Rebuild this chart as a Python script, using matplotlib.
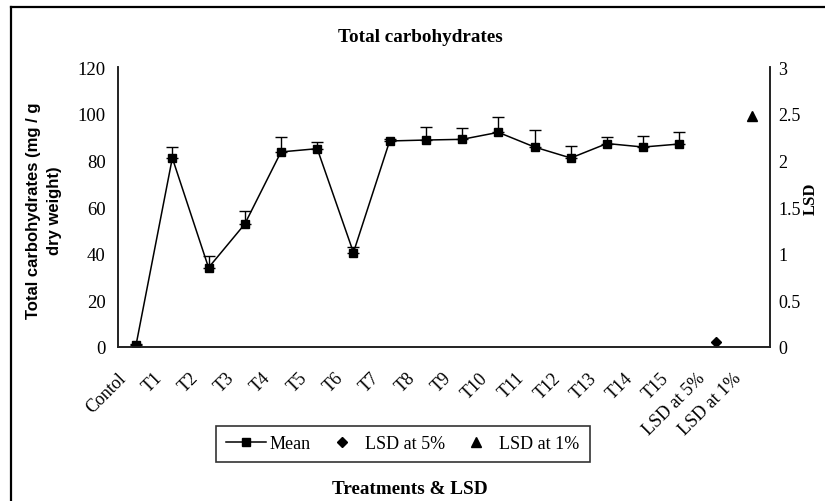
import numpy as np
import matplotlib.pyplot as plt
from matplotlib.lines import Line2D
from matplotlib.transforms import ScaledTranslation

# data
categories = ['Contol', 'T1', 'T2', 'T3', 'T4', 'T5', 'T6', 'T7', 'T8', 'T9',
              'T10', 'T11', 'T12', 'T13', 'T14', 'T15', 'LSD at 5%', 'LSD at 1%']
mean_values = [1, 81, 34, 52.7, 83.6, 85, 40.5, 88.3, 88.7, 89, 92, 85.7, 81, 87.2, 85.7, 87]
mean_errors = [0.5, 4.7, 5, 5.5, 6.5, 3, 2.5, 1, 5.5, 4.7, 6.6, 7.3, 5, 3, 4.7, 5]
lsd_5 = 0.05
lsd_1 = 2.48

serif = 'Liberation Serif'
sans = 'Liberation Sans'
fs = 13

fig = plt.figure(figsize=(8.25, 5.02), dpi=100)
ax = fig.add_axes([118 / 825, 1 - 348 / 502, (770 - 118) / 825, (348 - 68) / 502])
ax2 = ax.twinx()

x = np.arange(len(categories))
xm = x[:len(mean_values)]

ax.errorbar(xm, mean_values, yerr=[np.zeros(len(mean_errors)), mean_errors],
            fmt='none', ecolor='black', elinewidth=1, capsize=4, capthick=1, zorder=2)
ax.plot(xm, mean_values, color='black', lw=1.1, marker='s', markersize=6, zorder=3)
ax2.plot([x[16]], [lsd_5], linestyle='none', marker='D', color='black', markersize=5)
ax2.plot([x[17]], [lsd_1], linestyle='none', marker='^', color='black', markersize=7)

ax.set_xlim(-0.5, len(categories) - 0.5)
ax.set_ylim(0, 120)
ax2.set_ylim(0, 3)
ax.set_yticks(np.arange(0, 121, 20))
ax2.set_yticks(np.arange(0, 3.01, 0.5))
ax2.set_yticklabels(['0', '0.5', '1', '1.5', '2', '2.5', '3'])

# category labels: Excel-style 45 degree text, drawn at the category positions
ax.set_xticks(x)
ax.set_xticklabels([])
lab_tr = ax.get_xaxis_transform() + ScaledTranslation(-0.13, -0.28, fig.dpi_scale_trans)
for xi, name in zip(x, categories):
    ax.text(xi, 0, name, transform=lab_tr, rotation=45, ha='right', va='center',
            rotation_mode='anchor', fontfamily=serif, fontsize=fs)

ax.tick_params(axis='x', length=0)
ax.tick_params(axis='y', length=0, pad=9, labelsize=13.5)
ax2.tick_params(axis='y', length=0, pad=6, labelsize=fs)
for lab in ax.get_yticklabels() + ax2.get_yticklabels():
    lab.set_fontfamily(serif)

for a in (ax, ax2):
    a.spines['top'].set_visible(False)
    for s in ('left', 'right', 'bottom'):
        a.spines[s].set_linewidth(1.2)
        a.spines[s].set_color('#222222')

fig.text(420 / 825, 1 - 38 / 502, 'Total carbohydrates', ha='center', va='center',
         fontfamily=serif, fontweight='bold', fontsize=13.8)
fig.text(44 / 825, 1 - 211 / 502, 'Total carbohydrates (mg / g\ndry weight)',
         rotation=90, ha='center', va='center', multialignment='center',
         fontfamily=sans, fontweight='bold', fontsize=12, linespacing=1.5)
fig.text(811 / 825, 1 - 199 / 502, 'LSD', rotation=90, ha='center', va='center',
         fontfamily=serif, fontweight='bold', fontsize=12)
fig.text(410 / 825, 1 - 490 / 502, 'Treatments & LSD', ha='center', va='center',
         fontfamily=serif, fontweight='bold', fontsize=13.8)

handles = [
    Line2D([], [], color='black', lw=1.1, marker='s', markersize=6),
    Line2D([], [], linestyle='none', color='black', marker='D', markersize=5),
    Line2D([], [], linestyle='none', color='black', marker='^', markersize=7),
]
leg = fig.legend(handles, ['Mean', 'LSD at 5%', 'LSD at 1%'], ncol=3, loc='center',
                 bbox_to_anchor=(403 / 825, 1 - 445 / 502), frameon=True, fancybox=False,
                 prop={'family': serif, 'size': 13}, handlelength=2.2, columnspacing=0.6,
                 handletextpad=0.2, borderpad=0.55, borderaxespad=0)
leg.get_frame().set_edgecolor('black')
leg.get_frame().set_linewidth(1.2)

# outer chart border (only top and left edges fall inside the image)
fig.add_artist(Line2D([11 / 825, 11 / 825], [0, 1 - 8 / 502], color='black', lw=1.6,
                      transform=fig.transFigure))
fig.add_artist(Line2D([11 / 825, 1], [1 - 8 / 502, 1 - 8 / 502], color='black', lw=1.6,
                      transform=fig.transFigure))

fig.savefig('out.png', dpi=100)
